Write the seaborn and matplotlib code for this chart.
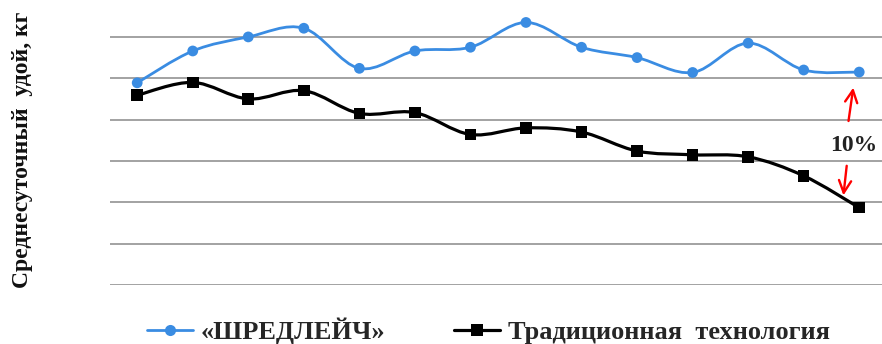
import numpy as np
import pandas as pd
import matplotlib
matplotlib.use("Agg")
import matplotlib.pyplot as plt
import seaborn as sns
from matplotlib.path import Path
from matplotlib.patches import PathPatch
from matplotlib.lines import Line2D

# Average daily milk yield per period, kg
periods = list(range(14))
shredlage = [32.89, 33.66, 34.00, 34.21, 33.24, 33.66, 33.75,
             34.35, 33.75, 33.50, 33.14, 33.85, 33.20, 33.15]
traditional = [32.59, 32.90, 32.50, 32.70, 32.15, 32.17, 31.64,
               31.80, 31.70, 31.24, 31.15, 31.10, 30.64, 29.87]
series_names = ["«ШРЕДЛЕЙЧ»", "Традиционная  технология"]
grid_levels = [28, 29, 30, 31, 32, 33, 34]
gap_label = "10%"

BLUE = "#3a8ce2"
BLACK = "#000000"

sns.set_theme(style="white")
plt.rcParams["font.family"] = ["Liberation Serif", "DejaVu Serif"]

df = pd.DataFrame({"period": periods * 2,
                   "yield": shredlage + traditional,
                   "series": [series_names[0]] * 14 + [series_names[1]] * 14})

fig = plt.figure(figsize=(8.82, 3.44), dpi=100)
ax = fig.add_axes([0.1247, 0.1715, 0.8753, 0.7933])


def smooth_path(xs, ys):
    """Catmull-Rom style Bezier curve through the given points."""
    pts = np.column_stack([xs, ys]).astype(float)
    n = len(pts)
    verts = [pts[0]]
    codes = [Path.MOVETO]
    for i in range(n - 1):
        p0 = pts[i - 1] if i > 0 else pts[i]
        p1, p2 = pts[i], pts[i + 1]
        p3 = pts[i + 2] if i + 2 < n else pts[i + 1]
        c1 = p1 + (p2 - p0) / 6.0
        c2 = p2 - (p3 - p1) / 6.0
        verts += [c1, c2, p2]
        codes += [Path.CURVE4] * 3
    return Path(verts, codes)


for name, color, lw in [(series_names[0], BLUE, 2.0), (series_names[1], BLACK, 2.3)]:
    sub = df[df["series"] == name]
    ax.add_patch(PathPatch(smooth_path(sub["period"], sub["yield"]), fill=False,
                           edgecolor=color, lw=lw, zorder=2, transform=ax.transData,
                           capstyle="round", joinstyle="round"))

sns.scatterplot(data=df, x="period", y="yield", hue="series", style="series",
                palette={series_names[0]: BLUE, series_names[1]: BLACK},
                markers={series_names[0]: "o", series_names[1]: "s"},
                size="series", sizes={series_names[0]: 60, series_names[1]: 70},
                linewidth=0, legend=False, zorder=3, ax=ax, clip_on=False)

ax.set_xlim(-0.49, 13.41)
ax.set_ylim(28, 34.6)
ax.set_yticks(grid_levels)
ax.set_yticklabels([])
ax.set_xticks([])
ax.yaxis.grid(True, color="#a2a2a2", lw=1.4)
ax.tick_params(length=0)
ax.set_xlabel("")
ax.set_ylabel("")
for s in ax.spines.values():
    s.set_visible(False)

# Gap between the two technologies in the last period
ax.text(12.91, 31.38, gap_label, ha="center", va="center", fontsize=17,
        fontweight="bold", color="#222222", zorder=4,
        bbox=dict(facecolor="white", edgecolor="none", alpha=0.7, pad=1.0))
ax.annotate("", xy=(12.90, 32.84), xytext=(12.80, 31.90),
            arrowprops=dict(arrowstyle="->", color="red", lw=1.7, mutation_scale=22),
            zorder=5)
ax.annotate("", xy=(12.71, 30.10), xytext=(12.78, 30.95),
            arrowprops=dict(arrowstyle="->", color="red", lw=1.7, mutation_scale=22),
            zorder=5)

fig.text(0.025, 0.565, "Среднесуточный  удой, кг", rotation=90, ha="center",
         va="center", fontsize=17, fontweight="bold", color="#111111")

handles = [Line2D([], [], color=BLUE, lw=2.0, marker="o", ms=8, mew=0),
           Line2D([], [], color=BLACK, lw=2.3, marker="s", ms=8, mew=0)]
fig.legend(handles, series_names, loc="lower center", bbox_to_anchor=(0.554, -0.07),
           ncol=2, frameon=False, handlelength=1.75, handletextpad=0.3,
           columnspacing=2.6, prop=dict(family="Liberation Serif", weight="bold", size=19))

fig.savefig("out.png", dpi=100)
